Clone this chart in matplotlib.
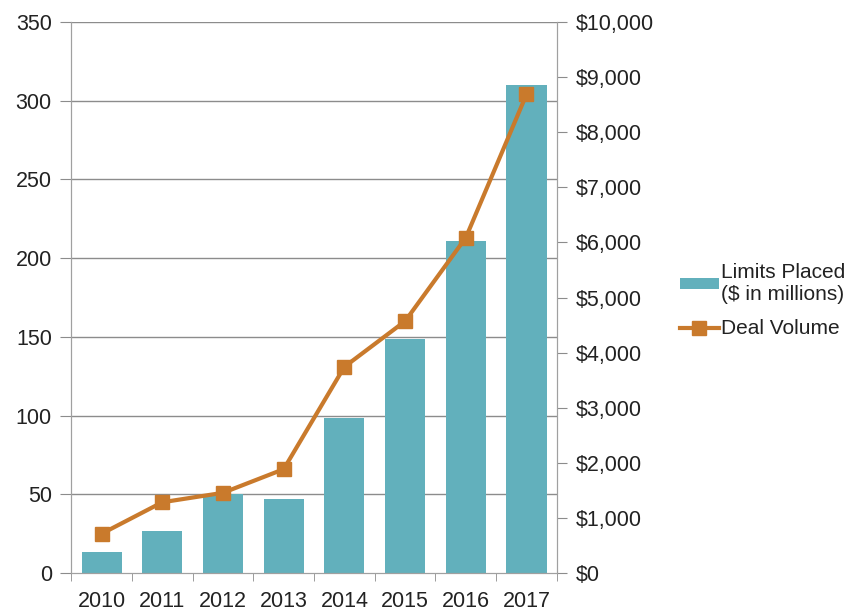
import matplotlib.pyplot as plt
import numpy as np
from matplotlib.ticker import FuncFormatter, FixedLocator

plt.rcParams['font.family'] = ['Liberation Sans', 'DejaVu Sans']

years = ["2010", "2011", "2012", "2013", "2014", "2015", "2016", "2017"]
# limits placed, $ in millions (right axis)
limits_placed = [389, 771, 1429, 1343, 2814, 4257, 6029, 8857]
# number of deals (left axis)
deal_volume = [25, 45, 51, 66, 131, 160, 213, 304]

bar_color = "#62B0BC"
line_color = "#C97A2C"
grid_color = "#8C8C8C"
text_color = "#222222"
fs = 15.5

fig = plt.figure(figsize=(8.58, 6.11), dpi=100)
ax = fig.add_axes([0.083, 0.062, 0.566, 0.902])
ax2 = ax.twinx()

x = np.arange(len(years))

# bars go on the dollar axis, drawn under the line
ax2.bar(x, limits_placed, width=0.66, color=bar_color, zorder=2)
ax2.set_ylim(0, 10000)
ax2.set_yticks(np.arange(0, 10001, 1000))
ax2.yaxis.set_major_formatter(FuncFormatter(lambda v, p: "${:,.0f}".format(v)))

ax.set_zorder(ax2.get_zorder() + 1)
ax.patch.set_visible(False)
ax.plot(x, deal_volume, color=line_color, lw=3, marker="s", markersize=10,
        zorder=5)
ax.set_ylim(0, 350)
ax.set_yticks(np.arange(0, 351, 50))
ax.set_xlim(-0.5, len(years) - 0.5)

# horizontal grid from the left axis, drawn behind the bars
for v in np.arange(50, 351, 50):
    ax2.axhline(v * 10000 / 350, color=grid_color, lw=1, zorder=1)

ax.set_xticks(x)
ax.set_xticklabels(years)
ax.xaxis.set_minor_locator(FixedLocator(np.arange(-0.5, len(years), 1.0)))

for a in (ax, ax2):
    for s in a.spines.values():
        s.set_color("#A0A0A0")
    a.spines["top"].set_visible(False)
    a.tick_params(labelsize=fs, colors=text_color)
ax.tick_params(axis="y", length=8, color=grid_color, pad=6)
ax2.tick_params(axis="y", length=7, color=grid_color, pad=7)
ax.tick_params(axis="x", which="major", length=0, pad=13)
ax.tick_params(axis="x", which="minor", length=6, color=grid_color, direction="out")

handles = [ax2.containers[0], ax.get_lines()[0]]
labels = ["Limits Placed\n($ in millions)", "Deal Volume"]
fig.legend(handles, labels, loc="center left", bbox_to_anchor=(0.783, 0.508),
           frameon=False, fontsize=15, handlelength=1.85, handleheight=0.45,
           handletextpad=0.1, labelspacing=0.75, borderaxespad=0,
           labelcolor=text_color)

fig.savefig("out.png", dpi=100)
